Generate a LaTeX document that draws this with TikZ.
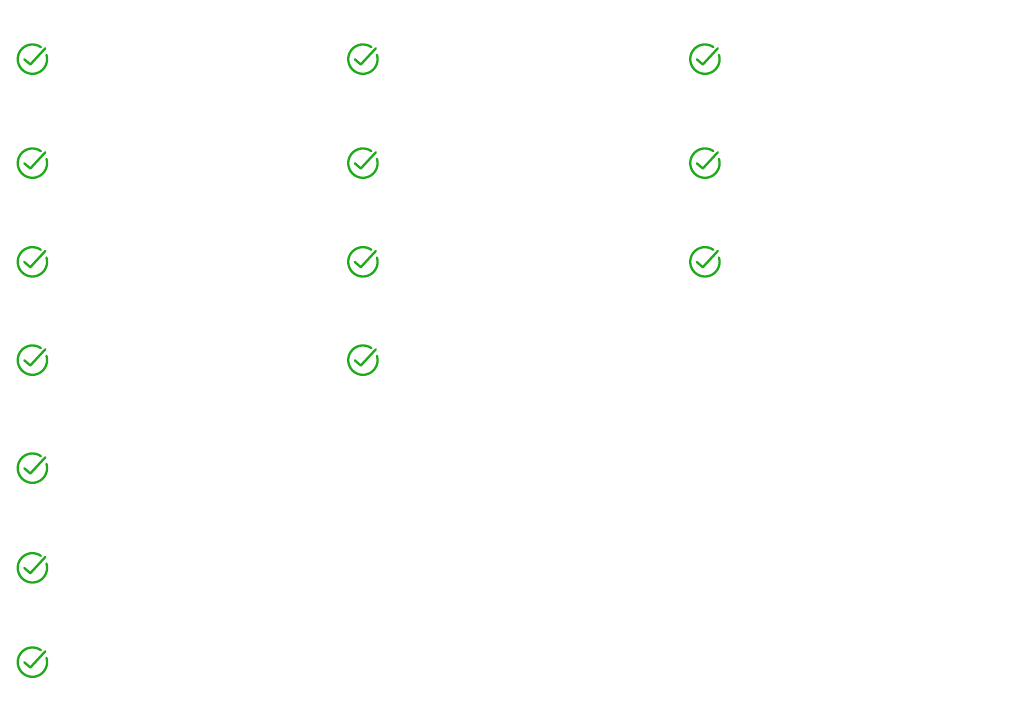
\documentclass[tikz,border=0pt]{standalone}
\usetikzlibrary{positioning}
\definecolor{okgreen}{RGB}{30,170,25}
\tikzset{
  okicon/.style={shape=circle, inner sep=0pt, minimum size=29.4pt},
  okline/.style={draw=okgreen, line width=2.3pt, line cap=round, line join=round}
}
\begin{document}
\begin{tikzpicture}[x=1pt, y=1pt]
\useasboundingbox (0,0) rectangle (1024,-725);
% first column
\node[okicon] (a1) at (32.3,-59.3) {};
\node[okicon] (a2) at (32.3,-163.3) {};
\node[okicon] (a3) at (32.3,-262) {};
\node[okicon] (a4) at (32.3,-360.3) {};
\node[okicon] (a5) at (32.3,-468.3) {};
\node[okicon] (a6) at (32.3,-568) {};
\node[okicon] (a7) at (32.3,-662.3) {};
% second column
\node[okicon] (b1) at (362.8,-59.3) {};
\node[okicon] (b2) at (362.8,-163.3) {};
\node[okicon] (b3) at (362.8,-262) {};
\node[okicon] (b4) at (362.8,-360.3) {};
% third column
\node[okicon] (c1) at (704.8,-59.3) {};
\node[okicon] (c2) at (704.8,-163.3) {};
\node[okicon] (c3) at (704.8,-262) {};
\foreach \n in {a1,a2,a3,a4,a5,a6,a7,b1,b2,b3,b4,c1,c2,c3}
  \draw[okline] (\n.55) arc[start angle=55, end angle=377, radius=14.7pt]
    (\n.center) ++(-8,0) -- ++(6,-5.2) -- ++(15,16.2);
\end{tikzpicture}
\end{document}
